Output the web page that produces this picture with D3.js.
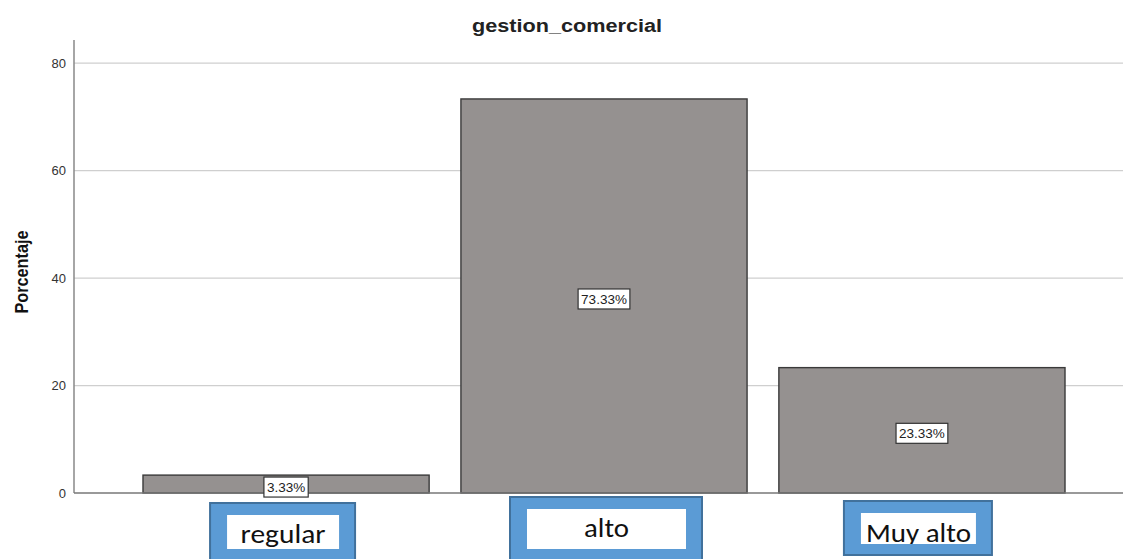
<!DOCTYPE html>
<html>
<head>
<meta charset="utf-8">
<script src="https://cdn.jsdelivr.net/npm/d3@7"></script>
<style>
  body { margin: 0; background: #fff; }
  svg { display: block; font-family: "Liberation Sans", Arial, sans-serif; }
</style>
</head>
<body>
<svg id="chart" width="1123" height="559"></svg>
<script>
// datos
const categorias = ['regular', 'alto', 'Muy alto'];
const porcentajes = [3.33, 73.33, 23.33];
const ticksY = [0, 20, 40, 60, 80];

// cajas azules que tapan las etiquetas del eje
const cajas = [
  { w: 147, h: 57, dx: -77, top: 502, base: 543, tw: 85 },
  { w: 194, h: 63, dx: -95, top: 496, base: 537, tw: 45 },
  { w: 150, h: 54, dx: -79, top: 500, base: 542, tw: 105 }
];

const svg = d3.select('#chart');
const W = 1123;
const mLeft = 74, mBottom = 493, mTop = 40;

const x = d3.scaleBand()
  .domain(categorias)
  .range([mLeft, 1134])
  .paddingInner(0.1)
  .paddingOuter(0.217);

const y = d3.scaleLinear()
  .domain([0, 84.3])
  .range([mBottom, mTop]);

// título
svg.append('text')
  .attr('x', 567).attr('y', 32)
  .attr('text-anchor', 'middle')
  .attr('textLength', 190)
  .attr('lengthAdjust', 'spacingAndGlyphs')
  .style('font-size', '18px').style('font-weight', 'bold')
  .style('fill', '#222')
  .text('gestion_comercial');

// rejilla
svg.append('g')
  .selectAll('line')
  .data(ticksY.filter(d => d > 0))
  .join('line')
  .attr('x1', mLeft).attr('x2', W)
  .attr('y1', d => y(d)).attr('y2', d => y(d))
  .attr('stroke', '#cfcfcf').attr('stroke-width', 1.3);

// eje y
const ejeY = svg.append('g')
  .attr('transform', `translate(${mLeft},0)`)
  .call(d3.axisLeft(y).tickValues(ticksY).tickSize(0).tickPadding(8));
ejeY.select('.domain').remove();
ejeY.selectAll('text')
  .style('font-size', '13px').style('fill', '#333')
  .attr('font-family', '"Liberation Sans", Arial, sans-serif');

svg.append('line')
  .attr('x1', mLeft).attr('x2', mLeft)
  .attr('y1', mTop).attr('y2', mBottom)
  .attr('stroke', '#888').attr('stroke-width', 1.5);

svg.append('text')
  .attr('transform', `translate(28,272) rotate(-90)`)
  .attr('text-anchor', 'middle')
  .attr('textLength', 83)
  .attr('lengthAdjust', 'spacingAndGlyphs')
  .style('font-size', '18px').style('font-weight', 'bold')
  .style('fill', '#111')
  .text('Porcentaje');

// barras
svg.append('g')
  .selectAll('rect')
  .data(porcentajes)
  .join('rect')
  .attr('x', (d, i) => x(categorias[i]))
  .attr('y', d => y(d))
  .attr('width', x.bandwidth())
  .attr('height', d => mBottom - y(d))
  .attr('fill', '#959190')
  .attr('stroke', '#3a3a3a')
  .attr('stroke-width', 1.4);

// eje x
svg.append('line')
  .attr('x1', mLeft).attr('x2', W)
  .attr('y1', mBottom).attr('y2', mBottom)
  .attr('stroke', '#777').attr('stroke-width', 1.5);

// etiquetas de valor
const etiq = svg.append('g')
  .selectAll('g')
  .data(porcentajes)
  .join('g')
  .attr('transform', (d, i) => `translate(${x(categorias[i]) + x.bandwidth() / 2},${(y(d) + y(0)) / 2 + 3})`);

etiq.append('rect')
  .attr('y', -10).attr('height', 20)
  .attr('fill', '#fff').attr('stroke', '#333').attr('stroke-width', 1.2);

etiq.append('text')
  .attr('text-anchor', 'middle').attr('dy', '0.36em')
  .style('font-size', '13.5px').style('fill', '#222')
  .text(d => d.toFixed(2) + '%');

etiq.each(function () {
  const g = d3.select(this);
  const tw = g.select('text').node().getComputedTextLength();
  g.select('rect').attr('x', -tw / 2 - 3).attr('width', tw + 6);
});

// cajas azules con nombres de categoría
const defs = svg.append('defs');
const cajasG = svg.append('g')
  .selectAll('g')
  .data(categorias)
  .join('g')
  .attr('transform', (d, i) => `translate(${x(d) + x.bandwidth() / 2 + cajas[i].dx},${cajas[i].top})`);

cajasG.append('rect')
  .attr('x', 1).attr('y', 1)
  .attr('width', (d, i) => cajas[i].w - 2)
  .attr('height', (d, i) => cajas[i].h)
  .attr('fill', '#5b9bd5')
  .attr('stroke', '#41719c').attr('stroke-width', 2);

cajasG.each(function (d, i) {
  const c = cajas[i];
  defs.append('clipPath').attr('id', 'clip' + i)
    .append('rect')
    .attr('x', 18).attr('y', 13)
    .attr('width', c.w - 35).attr('height', c.h - 23);
});

cajasG.append('rect')
  .attr('x', 18).attr('y', 13)
  .attr('width', (d, i) => cajas[i].w - 35)
  .attr('height', (d, i) => cajas[i].h - 23)
  .attr('fill', '#fff');

cajasG.append('text')
  .attr('clip-path', (d, i) => `url(#clip${i})`)
  .attr('x', (d, i) => 18 + (cajas[i].w - 35) / 2)
  .attr('y', (d, i) => cajas[i].base - cajas[i].top)
  .attr('text-anchor', 'middle')
  .attr('textLength', (d, i) => cajas[i].tw)
  .attr('lengthAdjust', 'spacingAndGlyphs')
  .style('font-family', '"Carlito", "Lato", "Open Sans", sans-serif')
  .style('font-size', '27px').style('fill', '#111')
  .text(d => d);
</script>
</body>
</html>
